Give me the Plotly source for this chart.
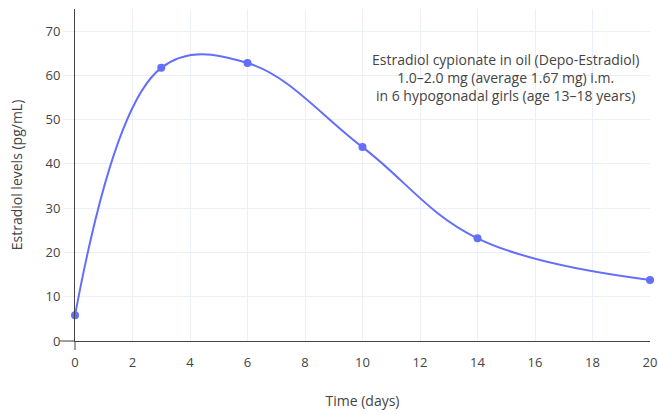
import plotly.graph_objects as go

days = [0, 3, 6, 10, 14, 20]
estradiol = [5.8, 61.7, 62.8, 43.8, 23.2, 13.8]
x_ticks = [0, 2, 4, 6, 8, 10, 12, 14, 16, 18, 20]
y_ticks = [0, 10, 20, 30, 40, 50, 60, 70]
note = ("Estradiol cypionate in oil (Depo-Estradiol)<br>"
        "1.0–2.0 mg (average 1.67 mg) i.m.<br>"
        "in 6 hypogonadal girls (age 13–18 years)")

W, H = 658, 414
ML, MR, MT, MB = 75, 8, 9, 73
PW, PH = W - ML - MR, H - MT - MB
XTICKLEN, YTICKLEN = 9, 11
AXIS = "#444"
GRID = "#EBF0F8"

fig = go.Figure(go.Scatter(
    x=days, y=estradiol, mode="lines+markers",
    line=dict(color="#636efa", width=2, shape="spline", smoothing=1.1),
    marker=dict(color="#636efa", size=8),
    cliponaxis=False,
))

fig.update_layout(
    template="plotly_white",
    width=W, height=H,
    margin=dict(l=ML, r=MR, t=MT, b=MB),
    showlegend=False,
    font=dict(family="Open Sans", color=AXIS),
    annotations=[dict(
        text=note, xref="paper", x=(505 - ML) / PW, xanchor="center",
        yref="paper", y=(341 - 77) / PH, yanchor="middle",
        showarrow=False, font=dict(size=14, color=AXIS), align="center",
    )],
    shapes=[
        # dark tick stubs where the two axis lines cross at the origin
        dict(type="line", xref="paper", yref="paper",
             x0=-15 / PW, x1=0, y0=0, y1=0,
             line=dict(color=AXIS, width=1), layer="above"),
        dict(type="line", xref="paper", yref="paper",
             x0=0, x1=0, y0=-XTICKLEN / PH, y1=0,
             line=dict(color=AXIS, width=1), layer="above"),
    ],
)
fig.update_xaxes(
    range=[0, 20], tickvals=x_ticks,
    title=dict(text="Time (days)", font=dict(size=14), standoff=26),
    showline=True, linecolor=AXIS, linewidth=1, ticks="outside", ticklen=XTICKLEN,
    tickcolor="rgba(0,0,0,0)", zeroline=False, gridcolor=GRID, tickfont=dict(size=13),
    automargin=False,
)
fig.update_yaxes(
    range=[0, 75], tickvals=y_ticks,
    title=dict(text="Estradiol levels (pg/mL)", font=dict(size=14), standoff=19),
    showline=True, linecolor=AXIS, linewidth=1, ticks="outside", ticklen=YTICKLEN,
    tickcolor=GRID, zeroline=False, gridcolor=GRID, tickfont=dict(size=13),
    automargin=False,
)
fig.write_html("out.html", config={"displayModeBar": False},
               post_script="document.body.style.margin='0px';")
